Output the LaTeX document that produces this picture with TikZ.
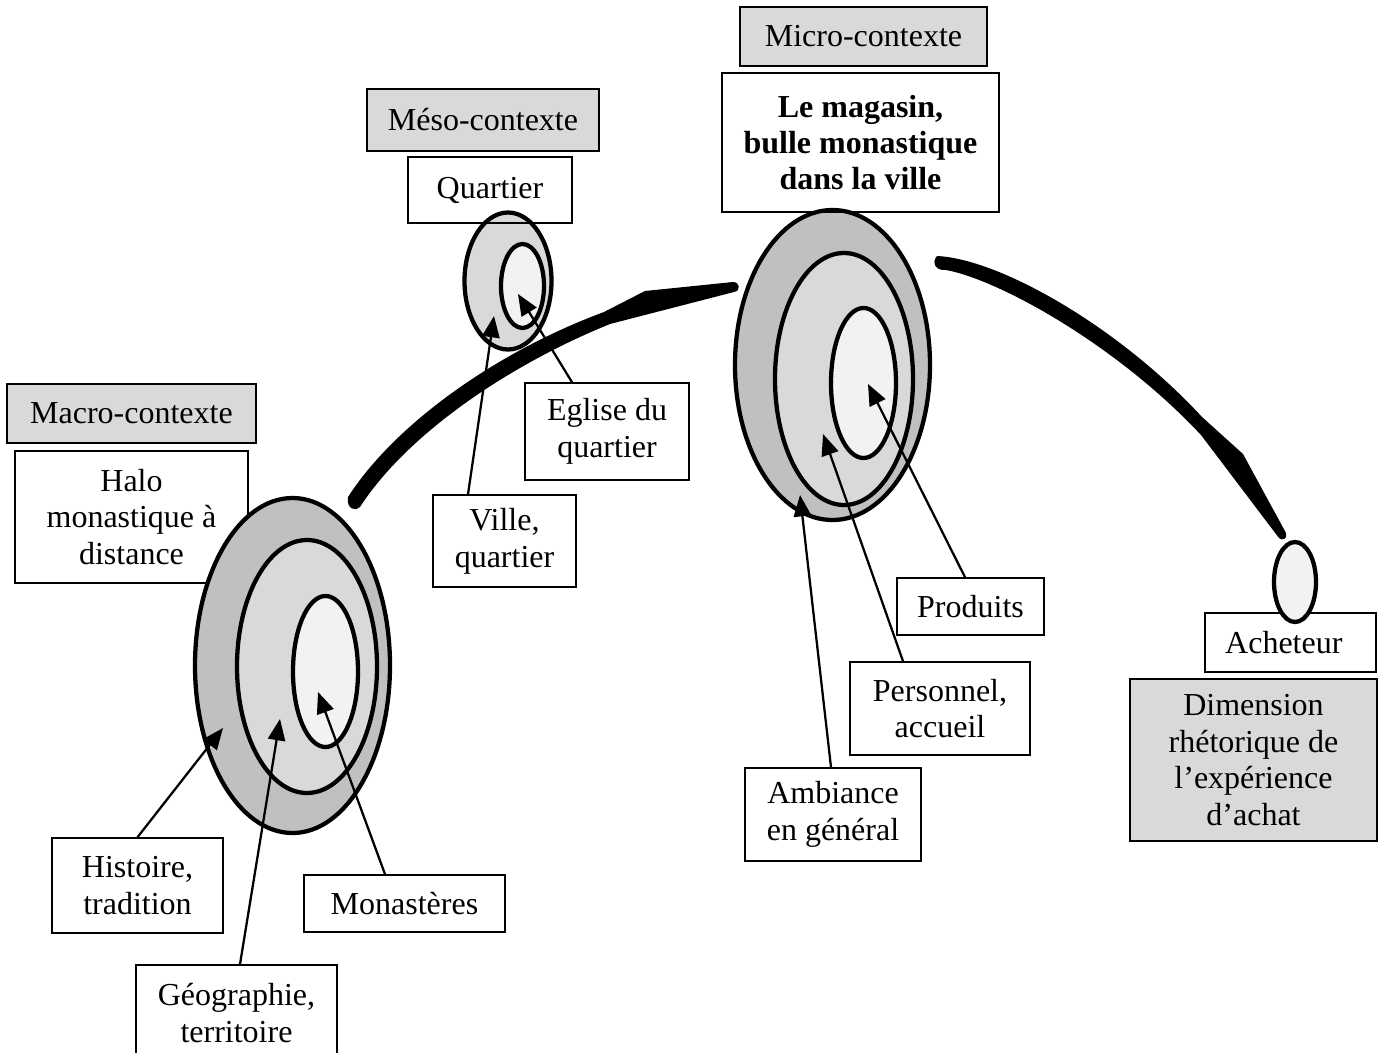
\documentclass[tikz,border=0pt]{standalone}
\usepackage{fontspec}
\setmainfont{Liberation Serif}
\usetikzlibrary{arrows.meta,calc}
\definecolor{lblgrey}{HTML}{D9D9D9}
\definecolor{ringA}{HTML}{C0C0C0}
\definecolor{ringB}{HTML}{D9D9D9}
\definecolor{ringC}{HTML}{F2F2F2}
\begin{document}
\begin{tikzpicture}[x=0.375pt,y=-0.375pt,
  txtbox/.style={draw, line width=0.6pt, align=center, inner sep=0pt,
    font=\fontsize{12}{13.8}\selectfont},
  bsz/.style 2 args={minimum width=#1*0.375pt, minimum height=#2*0.375pt},
  greybox/.style={txtbox, fill=lblgrey},
  ring/.style={draw, line width=1.6pt},
  pointer/.style={line width=0.85pt, -{Triangle[length=8pt,width=6.5pt]}},
  brush/.style={fill=black}]
\useasboundingbox (0,0) rectangle (1378,1053);
\fill[white] (0,0) rectangle (1378,1053);

% ---- boxes under the rings
\node[txtbox, bsz={233}{132}] (halo) at (131.5,517) {Halo\\monastique à\\distance};

% ---- ellipses (macro)
\draw[ring, fill=ringA] (292.5,665.5) ellipse [x radius=97.5, y radius=167.5];
\draw[ring, fill=ringB] (307,666.5) ellipse [x radius=70, y radius=126.5];
\draw[ring, fill=ringC] (325.5,671.5) ellipse [x radius=32.5, y radius=75.5];
% ---- ellipses (meso)
\draw[ring, fill=ringB] (508,281) ellipse [x radius=43.5, y radius=68.5];
\draw[ring, fill=ringC] (522.5,286) ellipse [x radius=21.5, y radius=42];
% ---- ellipses (micro)
\draw[ring, fill=ringA] (832.5,365) ellipse [x radius=97.5, y radius=155];
\draw[ring, fill=ringB] (844,379) ellipse [x radius=69, y radius=126];
\draw[ring, fill=ringC] (863.5,383) ellipse [x radius=32.5, y radius=75];

% ---- brush strokes
\path[brush] (348,497) .. controls (395,424) and (496,352) .. (604,312)
  -- (645,291) -- (733,282) .. controls (740,282) and (741,291) .. (734,292)
  -- (610,324) .. controls (504,367) and (405,437) .. (360,507)
  .. controls (356,512) and (346,509) .. (348,497) -- cycle;
\path[brush] (937,256) .. controls (1000,259) and (1119,327) .. (1202,417)
  -- (1243,454) -- (1286,533) .. controls (1288,539) and (1282,541) .. (1279,538)
  -- (1201,435) .. controls (1118,346) and (1000,280) .. (946,270)
  .. controls (936,271) and (931,263) .. (937,256) -- cycle;

% ---- boxes
\node[greybox, bsz={247}{59}] (micro) at (863.5,36.5) {Micro-contexte};
\node[txtbox, bsz={277}{139}, font=\fontsize{12}{13.5}\selectfont\bfseries] (magasin) at (860.5,142.5) {Le magasin,\\bulle monastique\\dans la ville};
\node[greybox, bsz={232}{62}] (meso) at (483,120) {Méso-contexte};
\node[txtbox, bsz={164}{66}] (quartier) at (490,190) {Quartier};
\node[greybox, bsz={249}{59}] (macro) at (131.5,413.5) {Macro-contexte};
\node[txtbox, bsz={164}{97}] (eglise) at (607,431.5) {Eglise du\\quartier};
\node[txtbox, bsz={143}{92}] (ville) at (504.5,541) {Ville,\\quartier};
\node[txtbox, bsz={147}{57}] (prod) at (970.5,606.5) {Produits};
\node[txtbox, bsz={180}{93}] (pers) at (940,708.5) {Personnel,\\accueil};
\node[txtbox, bsz={176}{93}] (amb) at (833,814.5) {Ambiance\\en général};
\node[txtbox, bsz={171}{59}] (achet) at (1290.5,642.5) {Acheteur\hspace*{5pt}};
\node[greybox, bsz={247}{162}] (dim) at (1253.5,760) {Dimension\\rhétorique de\\l’expérience\\d’achat};
\node[txtbox, bsz={171}{95}] (hist) at (137.5,885.5) {Histoire,\\tradition};
\node[txtbox, bsz={201}{57}] (mon) at (404.5,903.5) {Monastères};
\node[txtbox, bsz={201}{96}] (geo) at (236.5,1013) {Géographie,\\territoire};

% acheteur ellipse over its box
\draw[ring, fill=ringC] (1295,582) ellipse [x radius=21, y radius=40];

% ---- pointer targets
\coordinate (tHist) at (223,728);
\coordinate (tGeo) at (280,719);
\coordinate (tMon) at (318,692);
\coordinate (tVille) at (494,316);
\coordinate (tEgl) at (518,294);
\coordinate (tProd) at (868,384);
\coordinate (tPers) at (823,434);
\coordinate (tAmb) at (800,495);

\draw[pointer] (hist.north) -- (tHist);
\draw[pointer] ($(geo.north)+(3.5,0)$) -- (tGeo);
\draw[pointer] ($(mon.north)+(-19.5,0)$) -- (tMon);
\draw[pointer] ($(ville.north)+(-36.5,0)$) -- (tVille);
\draw[pointer] ($(eglise.north)+(-35,0)$) -- (tEgl);
\draw[pointer] ($(prod.north)+(-5.5,0)$) -- (tProd);
\draw[pointer] ($(pers.north)+(-37,0)$) -- (tPers);
\draw[pointer] ($(amb.north)+(-2,0)$) -- (tAmb);
\end{tikzpicture}
\end{document}
